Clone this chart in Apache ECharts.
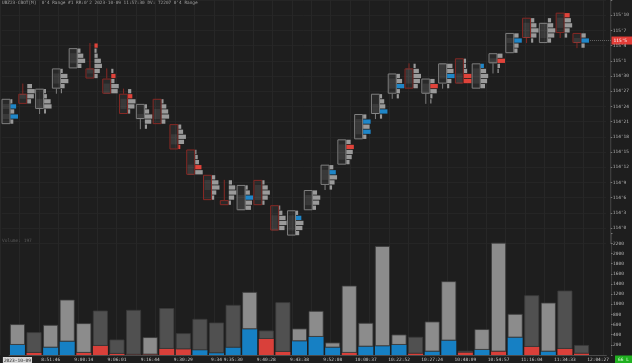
<!DOCTYPE html>
<html><head><meta charset="utf-8">
<script src="https://cdn.jsdelivr.net/npm/echarts@6/dist/echarts.min.js"></script>
<style>html,body{margin:0;padding:0;background:#1e1e1e;}#c{width:632px;height:363px;}</style>
</head><body><div id="c"></div>
<script>
// ---- data ----
const timeLabels = ['2023-10-09','','8:51:46','','9:00:14','','9:06:01','','9:16:44','','9:30:29','','9:34','9:35:30','','9:40:28','','9:43:38','','9:52:08','','10:00:37','','10:22:52','','10:27:24','','10:48:09','','10:54:57','','11:16:04','','11:34:33','','12:04:27'];
// prices in 32nds above 114'0
const opens  = [21,26,24,28,32,31,29,26,22,25,20,15,10,5,4,9,4,-1,4,9,13,18,23,27,31,27,29,33,28,33,35,41,37,42,38];
const highs  = [25,28,27,31,35,36,31,27,24,25,20,15,10,9,8,9,4,3,7,12,17,22,26,30,32,29,32,33,32,34,38,41,40,42,38];
const lows   = [21,25,23,27,32,30,27,23,20,21,16,11,6,5,4,5,0,-1,4,8,13,18,22,26,28,25,28,29,28,31,35,37,37,38,36];
const closes = [25,25,27,31,35,30,27,23,24,21,16,11,6,5,8,5,0,3,7,12,17,22,26,30,28,29,32,29,32,34,38,38,40,39,37];
// volume at each price level, from low to high
const profiles = [
 [3,8,4,6,2],[4,7,8,5],[2,8,7,3,2],[1,4,8,7,2],[4,8,6,3],[3,5,7,6,3,2,3],[6,7,3,4,2],
 [2,6,7,4,3],[2,6,7,4,2],[4,8,7,5,2],[2,6,8,5,3],[6,5,3,2,1],[2,4,7,6,3],[2,5,7,6,3],
 [5,6,7,4,2],[2,5,7,5,2],[5,7,6,3,1],[3,6,7,5,2],[3,6,7,4],[2,4,6,5,3],[3,5,6,7,4],
 [3,7,6,7,3],[2,7,5,4,2],[2,3,7,5,3],[4,6,7,5,2],[1,2,6,7,4],[2,4,7,6,5],[7,7,3,2,2],
 [4,6,7,5,3],[1,2,6,4],[3,4,7,4],[2,5,7,5,3],[3,6,7,5,3],[2,4,6,5,4],[3,7,4]
];
// b = buy imbalance, r = sell imbalance, . = none
const profileMarks = ['.b.b.','....','.....','.....','....','......r','...r.','...r.','.....','.....','r....','.r...','.....','.....',
 '..b..','.....','.....','...b.','....','...b.','...r.','.b.b.','.b...','..b..','.....','...r.','..b..','rr...','....b','..r.','..b.','.....','.....','....r','.b.'];
const volumes = [608,450,594,1092,627,876,305,890,352,925,430,712,640,988,1244,483,1041,522,870,246,1368,634,2149,404,358,660,1454,83,510,2214,811,1178,1033,1270,197];
const deltas  = [200,-43,148,266,-43,-181,-24,-8,-10,-122,-115,96,37,148,510,-318,-63,273,358,148,-43,167,175,200,-30,69,286,-50,102,-69,345,-161,69,-122,-30];
const priceTicks = [0,3,6,9,12,15,18,21,24,27,30,33,36,39,42];
const volumeTicks = [200,400,600,800,1000,1200,1400,1600,1800,2000,2200];
const lastPrice = 37;
const titleText = "UBZ23-CBOT[M]  0'4 Range #1 RR:0'2 2023-10-09 11:57:30 DV: 72207 0'4 Range";
const volumeLabel = 'Volume: 197';

// ---- helpers ----
const fmtPrice = t => t >= 32 ? "115'" + (t - 32) : "114'" + t;
const isUp = i => closes[i] > opens[i] || (closes[i] === opens[i] && i > 0 && closes[i] > closes[i-1]);
const MONO = '"DejaVu Sans Mono", monospace';
const FS = 4.5;
const cats = timeLabels.map((_, i) => String(i));

function renderCandle(params, api) {
  const i = api.value(0);
  const o = opens[i], h = highs[i], l = lows[i], c = closes[i];
  const up = isUp(i);
  const cx = api.coord([i, 0])[0];
  const lvl = api.size([0, 1])[1];
  const yOf = t => api.coord([i, t])[1];
  const top = yOf(Math.max(o, c)) - lvl / 2;
  const bot = yOf(Math.min(o, c)) + lvl / 2;
  const bx = cx - 8.5, bw = 9;
  const stroke = up ? '#7e7e7e' : '#862824';
  const ch = [];
  const wx = bx + bw / 2;
  if (yOf(h) - lvl / 2 < top) ch.push({type:'line', shape:{x1:wx, y1:yOf(h) - lvl/2, x2:wx, y2:top}, style:{stroke: stroke, lineWidth:1}});
  if (yOf(l) + lvl / 2 > bot) ch.push({type:'line', shape:{x1:wx, y1:bot, x2:wx, y2:yOf(l) + lvl/2}, style:{stroke: stroke, lineWidth:1}});
  // body with shaded cells for the busiest levels inside
  ch.push({type:'rect', shape:{x:bx + 0.5, y:top + 0.5, width:bw - 1, height:bot - top - 1}, style:{fill:'rgba(255,255,255,0.05)', stroke: stroke, lineWidth:1}});
  const prof = profiles[i];
  const mx = Math.max.apply(null, prof);
  prof.forEach((v, k) => {
    const t = l + k;
    if (t < Math.min(o, c) || t > Math.max(o, c)) return;
    if (v / mx < 0.7) return;
    const yc = yOf(t);
    ch.push({type:'rect', shape:{x:bx + 1.5, y:yc - lvl/2, width:bw - 3, height:lvl}, style:{fill:'rgba(255,255,255,0.08)'}});
  });
  const marks = profileMarks[i];
  let endX = cx;
  prof.forEach((v, k) => {
    const yc = yOf(l + k);
    const w = v / mx * 7.5;
    const m = marks[k];
    const fill = m === 'b' ? '#1f86c8' : m === 'r' ? '#e0433a' : '#9a9a9a';
    ch.push({type:'rect', shape:{x:cx + 0.5, y:yc - lvl/2 + 0.4, width:w, height:lvl - 0.8}, style:{fill: fill}});
    if (Math.abs(l + k - lastPrice) < 0.1) endX = Math.max(endX, cx + 0.5 + w);
  });
  if (i === opens.length - 1) {
    const yl = yOf(lastPrice);
    const right = params.coordSys.x + params.coordSys.width + 5;
    ch.push({type:'line', shape:{x1:endX + 1, y1:yl, x2:right, y2:yl}, style:{stroke:'#777', lineWidth:0.8, lineDash:[1,1]}});
  }
  return {type:'group', children: ch};
}

const chart = echarts.init(document.getElementById('c'), null, {renderer:'canvas'});
const GL = 1.6, GW = 604.8;
const axisTxt = {color:'#b4b4b4', fontSize:FS, fontFamily:MONO};
chart.setOption({
  backgroundColor:'#1e1e1e',
  animation:false,
  grid:[
    {left:GL, width:GW, top:0, height:243.2},
    {left:GL, width:GW, top:233.3, height:121.9},
    {left:0, width:611, top:0, height:355.2}
  ],
  xAxis:[
    {type:'category', gridIndex:0, data:cats, boundaryGap:true, axisLine:{show:false}, axisTick:{show:false}, axisLabel:{show:false}, splitLine:{show:false}},
    {type:'category', gridIndex:1, data:cats, boundaryGap:true,
      axisLine:{show:true, lineStyle:{color:'#4a4a4a'}}, axisTick:{show:false},
      axisLabel:{interval:0, margin:2, ...axisTxt, color:'#c8c8c8',
        formatter:(v, i) => i === 0 ? '{d|' + timeLabels[0] + '}' : timeLabels[i],
        rich:{d:{backgroundColor:'#d8d8d8', color:'#1e1e1e', fontSize:FS, fontFamily:MONO, padding:[1,1,0,1]}}},
      splitLine:{show:false}},
    {type:'value', gridIndex:2, min:0, max:611, interval:19.45, axisLine:{show:false}, axisTick:{show:false}, axisLabel:{show:false},
      splitLine:{show:true, lineStyle:{color:'#272727', width:1}}}
  ],
  yAxis:[
    {type:'value', gridIndex:0, position:'right', offset:4.6, min:-3, max:45, interval:3,
      axisLine:{show:true, lineStyle:{color:'#3c3c3c'}}, axisTick:{show:true, length:1.5, lineStyle:{color:'#777'}},
      axisLabel:{margin:2, ...axisTxt, formatter:v => (v >= 0 && v <= 42) ? fmtPrice(v) : ''},
      splitLine:{show:true, lineStyle:{color:'#252525'}}},
    {type:'value', gridIndex:1, position:'right', offset:4.6, min:0, max:2400, interval:200,
      axisLine:{show:true, lineStyle:{color:'#3c3c3c'}}, axisTick:{show:true, length:1.5, lineStyle:{color:'#777'}},
      axisLabel:{margin:2, ...axisTxt, formatter:v => volumeTicks.indexOf(v) >= 0 ? String(v) : ''},
      splitLine:{show:false}},
    {type:'value', gridIndex:2, min:0, max:1, show:false}
  ],
  series:[
    {type:'custom', xAxisIndex:0, yAxisIndex:0, renderItem:renderCandle,
      data: opens.map((o, i) => [i, lows[i], highs[i]]), encode:{x:0, y:[1,2]}, clip:false, z:5},
    {type:'bar', xAxisIndex:1, yAxisIndex:1, stack:'v', barWidth:15,
      data: deltas.map(d => ({value:Math.abs(d), itemStyle:{color: d >= 0 ? '#1680c4' : '#d9403a'}}))},
    {type:'bar', xAxisIndex:1, yAxisIndex:1, stack:'v', barWidth:15,
      data: volumes.map((v, i) => ({value:v - Math.abs(deltas[i]), itemStyle:{color: isUp(i) ? '#8c8c8c' : '#505050'}})),
      itemStyle:{borderColor:'#3a3a3a', borderWidth:0.8}}
  ]
});

const yLast = chart.convertToPixel({yAxisIndex:0}, lastPrice);
chart.setOption({
  graphic:[
    {type:'text', left:2, top:1, style:{text:titleText, fill:'#a0a0a0', font:FS - 0.1 + 'px ' + MONO}},
    {type:'text', left:2, top:238, style:{text:volumeLabel, fill:'#5a5a5a', font:FS + 'px ' + MONO}},
    {type:'group', left:611.5, top:yLast - 4, children:[
      {type:'rect', shape:{x:0, y:0, width:20.5, height:8}, style:{fill:'#e23b36'}},
      {type:'text', x:2, y:4, style:{text:fmtPrice(lastPrice), fill:'#ffffff', font:FS + 'px ' + MONO, verticalAlign:'middle'}}
    ]},
    {type:'group', left:615, top:355.5, children:[
      {type:'rect', shape:{x:0, y:0, width:17, height:7.5}, style:{fill:'#20b020'}},
      {type:'text', x:3, y:3.9, style:{text:'66 L', fill:'#e8ffe8', font:FS + 'px ' + MONO, verticalAlign:'middle'}}
    ]}
  ]
});
</script></body></html>
